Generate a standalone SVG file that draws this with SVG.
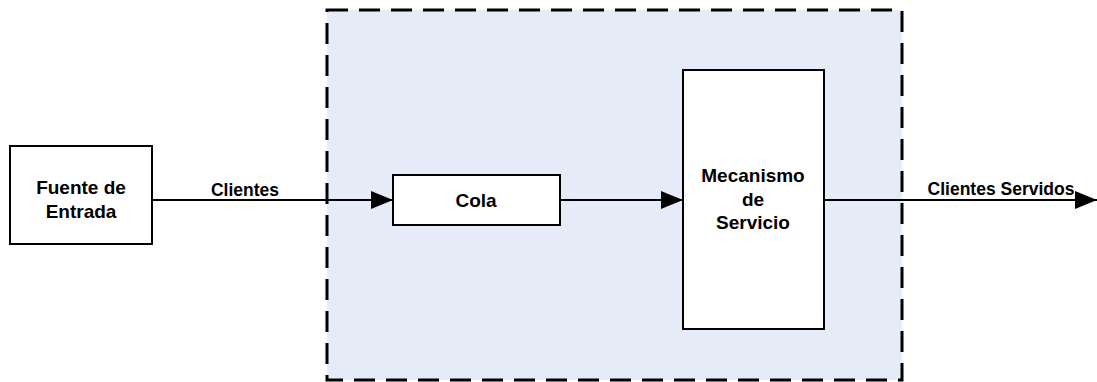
<svg xmlns="http://www.w3.org/2000/svg" width="1097" height="382" viewBox="0 0 1097 382">
<style>
.box{fill:#ffffff;stroke:#000;stroke-width:2}
.lbl{font-family:"Liberation Sans",Arial,sans-serif;font-weight:bold;font-size:19px;fill:#000;text-anchor:middle}
.sm{font-size:17.5px}
.conn{stroke:#000;stroke-width:2;fill:none}
</style>
<defs>
<marker id="ah" markerWidth="22" markerHeight="18" refX="22" refY="9" orient="auto" markerUnits="userSpaceOnUse">
<path d="M0,0 L22,9 L0,18 Z" fill="#000"/>
</marker>
</defs>
<g id="system">
<rect x="327" y="10" width="575" height="370" fill="#E6ECF7" stroke="#000" stroke-width="3" stroke-dasharray="21,11"/>
</g>
<g id="connectors">
<line class="conn" x1="152" y1="200" x2="393" y2="200" marker-end="url(#ah)"/>
<line class="conn" x1="560" y1="200" x2="683" y2="200" marker-end="url(#ah)"/>
<line class="conn" x1="824" y1="200" x2="1097" y2="200" marker-end="url(#ah)"/>
<text class="lbl sm" x="245" y="196">Clientes</text>
<text class="lbl sm" x="1001" y="195">Clientes Servidos</text>
</g>
<g id="fuente">
<rect class="box" x="10" y="146" width="142" height="98"/>
<text class="lbl" x="81" y="194">Fuente de</text>
<text class="lbl" x="81" y="218">Entrada</text>
</g>
<g id="cola">
<rect class="box" x="393" y="175" width="167" height="50"/>
<text class="lbl" x="476" y="207">Cola</text>
</g>
<g id="mecanismo">
<rect class="box" x="683" y="70" width="141" height="259"/>
<text class="lbl" x="753" y="182">Mecanismo</text>
<text class="lbl" x="753" y="206">de</text>
<text class="lbl" x="753" y="229">Servicio</text>
</g>
</svg>
